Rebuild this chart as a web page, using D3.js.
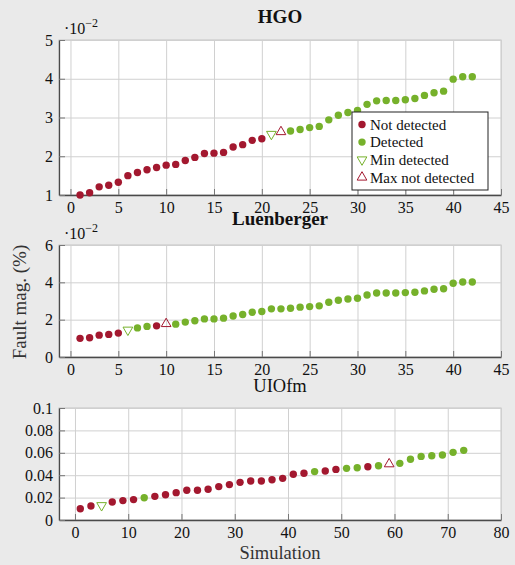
<!DOCTYPE html>
<html>
<head>
<meta charset="utf-8">
<script src="https://cdn.jsdelivr.net/npm/d3@7"></script>
<style>
  body { margin: 0; background: #eaeaea; }
  svg { display: block; }
  svg text { font-family: "Liberation Serif", "DejaVu Serif", serif; }
</style>
</head>
<body>
<svg id="chart" width="515" height="565"></svg>
<script>
'use strict';

// status codes: N = not detected, D = detected, v = min detected, ^ = max not detected
const hgoSim = [1,2,3,4,5,6,7,8,9,10,11,12,13,14,15,16,17,18,19,20,21,22,23,24,25,26,27,28,29,30,31,32,33,34,35,36,37,38,39,40,41,42];
const hgoVal = [1.00,1.06,1.21,1.25,1.33,1.50,1.58,1.65,1.71,1.77,1.79,1.89,1.97,2.07,2.08,2.10,2.24,2.30,2.41,2.45,
                2.57,2.63,2.65,2.69,2.74,2.77,2.94,3.06,3.13,3.18,3.34,3.43,3.44,3.44,3.46,3.49,3.57,3.64,3.68,3.99,4.05,4.05];
const hgoStatus = 'NNNNNNNNNNNNNNNNNNNNv^DDDDDDDDDDDDDDDDDDDD';

const luenSim = hgoSim;
const luenVal = [1.00,1.03,1.17,1.21,1.28,1.45,1.56,1.64,1.67,1.78,1.76,1.87,1.94,2.04,2.04,2.08,2.20,2.28,2.40,2.44,
                 2.58,2.58,2.61,2.67,2.70,2.74,2.93,3.04,3.11,3.15,3.32,3.43,3.43,3.43,3.45,3.47,3.54,3.63,3.66,3.95,4.02,4.02];
const luenStatus = 'NNNNNvDDN^DDDDDDDDDDDDDDDDDDDDDDDDDDDDDDDD';

const uioSim = [1,3,5,7,9,11,13,15,17,19,21,23,25,27,29,31,33,35,37,39,41,43,45,47,49,51,53,55,57,59,61,63,65,67,69,71,73];
const uioVal = [0.0101,0.0125,0.0130,0.0161,0.0173,0.0182,0.0199,0.0211,0.0226,0.0244,0.0265,0.0265,0.0274,0.0298,
                0.0316,0.0336,0.0348,0.0348,0.0360,0.0372,0.0408,0.0417,0.0432,0.0438,0.0452,0.0461,0.0467,0.0476,
                0.0485,0.0500,0.0506,0.0542,0.0568,0.0574,0.0580,0.0604,0.0622];
const uioStatus = 'NNvNNNDNNNNNNNNNNNNNNNDNNDDND^DDDDDDD';

const xTicksShort = [0,5,10,15,20,25,30,35,40,45];
const xTicksLong = [0,10,20,30,40,50,60,70,80];
const hgoYTicks = [1,2,3,4,5];
const luenYTicks = [0,2,4,6];
const uioYTicks = [0,0.02,0.04,0.06,0.08,0.1];

const legendLabels = ['Not detected', 'Detected', 'Min detected', 'Max not detected'];
const legendCodes = ['N', 'D', 'v', '^'];

const RED = '#a3182f';
const GREEN = '#76b12b';
const FONT = '"Liberation Serif", "DejaVu Serif", serif';

const svg = d3.select('#chart');
const left = 59, right = 501;

const panels = [
    { title: 'HGO', bold: true, titleY: 23, top: 40, bottom: 195, xDomain: [-1.2, 45], yDomain: [1, 5],
      xTicks: xTicksShort, yTicks: hgoYTicks, sims: hgoSim, vals: hgoVal, status: hgoStatus, exp: true },
    { title: 'Luenberger', bold: true, titleY: 225, top: 245, bottom: 357, xDomain: [-1.2, 45], yDomain: [0, 6],
      xTicks: xTicksShort, yTicks: luenYTicks, sims: luenSim, vals: luenVal, status: luenStatus, exp: true },
    { title: 'UIOfm', bold: false, titleY: 392, top: 408, bottom: 520, xDomain: [-3, 80], yDomain: [0, 0.1],
      xTicks: xTicksLong, yTicks: uioYTicks, sims: uioSim, vals: uioVal, status: uioStatus, exp: false }
];

function triangle(up, r) {
    const h = r * 0.866;
    return up
        ? `M0,${-r}L${h},${r / 2}L${-h},${r / 2}Z`
        : `M0,${r}L${h},${-r / 2}L${-h},${-r / 2}Z`;
}

function drawMark(g, code, x, y) {
    if (code === 'N' || code === 'D') {
        g.append('circle').attr('cx', x).attr('cy', y).attr('r', 3.7)
            .attr('fill', code === 'N' ? RED : GREEN);
    } else {
        g.append('path').attr('d', triangle(code === '^', 5.6))
            .attr('transform', `translate(${x},${y})`)
            .attr('fill', 'none')
            .attr('stroke', code === '^' ? RED : GREEN)
            .attr('stroke-width', 1);
    }
}

panels.forEach(p => {
    const x = d3.scaleLinear().domain(p.xDomain).range([left, right]);
    const y = d3.scaleLinear().domain(p.yDomain).range([p.bottom, p.top]);
    const h = p.bottom - p.top;
    const g = svg.append('g');

    g.append('rect')
        .attr('x', left).attr('y', p.top)
        .attr('width', right - left).attr('height', h)
        .attr('fill', '#fff').attr('stroke', '#c4c4c4');

    // grid
    g.append('g').attr('transform', `translate(0,${p.bottom})`)
        .call(d3.axisBottom(x).tickValues(p.xTicks).tickSize(-h).tickFormat(''))
        .call(a => a.select('.domain').remove())
        .selectAll('line').attr('stroke', '#d0d0d0');
    g.append('g').attr('transform', `translate(${left},0)`)
        .call(d3.axisLeft(y).tickValues(p.yTicks).tickSize(-(right - left)).tickFormat(''))
        .call(a => a.select('.domain').remove())
        .selectAll('line').attr('stroke', '#d0d0d0');

    // axes
    const xa = g.append('g').attr('transform', `translate(0,${p.bottom})`)
        .call(d3.axisBottom(x).tickValues(p.xTicks).tickSizeInner(-6).tickSizeOuter(0).tickPadding(7));
    const ya = g.append('g').attr('transform', `translate(${left},0)`)
        .call(d3.axisLeft(y).tickValues(p.yTicks).tickSizeInner(-6).tickSizeOuter(0).tickPadding(6)
            .tickFormat(d => String(d)));
    [xa, ya].forEach(a => {
        a.attr('font-family', FONT);
        a.select('.domain').attr('stroke', '#4a4a4a').attr('stroke-width', 1.3);
        a.selectAll('line').attr('stroke', '#777');
        a.selectAll('text').attr('font-size', 16).attr('fill', '#111');
    });

    // marks
    const marks = g.append('g');
    p.sims.forEach((s, i) => drawMark(marks, p.status[i], x(s), y(p.vals[i])));

    // title
    svg.append('text')
        .attr('x', 280).attr('y', p.titleY)
        .attr('text-anchor', 'middle')
        .attr('font-size', p.bold ? 19 : 18.5)
        .attr('font-weight', p.bold ? 'bold' : 'normal')
        .attr('fill', '#111')
        .text(p.title);

    if (p.exp) {
        const t = svg.append('text').attr('x', 64).attr('y', p.top - 6)
            .attr('font-size', 16).attr('fill', '#111');
        t.append('tspan').text('·10');
        t.append('tspan').attr('dy', -7).attr('font-size', 12).text('−2');
    }
});

// axis labels
svg.append('text')
    .attr('x', 280).attr('y', 559)
    .attr('text-anchor', 'middle').attr('font-size', 18.5).attr('fill', '#333')
    .text('Simulation');
svg.append('text')
    .attr('transform', 'translate(26,302) rotate(-90)')
    .attr('text-anchor', 'middle').attr('font-size', 19).attr('fill', '#333')
    .text('Fault mag. (%)');

// legend
const legend = svg.append('g');
legend.append('rect')
    .attr('x', 352).attr('y', 112).attr('width', 136).attr('height', 78)
    .attr('fill', '#fff').attr('stroke', '#222').attr('stroke-width', 1);
legendLabels.forEach((label, i) => {
    const cy = 124.5 + i * 17.6;
    drawMark(legend, legendCodes[i], 362, cy);
    legend.append('text')
        .attr('x', 370).attr('y', cy).attr('dy', '0.35em')
        .attr('font-size', 15).attr('fill', '#111')
        .text(label);
});
</script>
</body>
</html>
